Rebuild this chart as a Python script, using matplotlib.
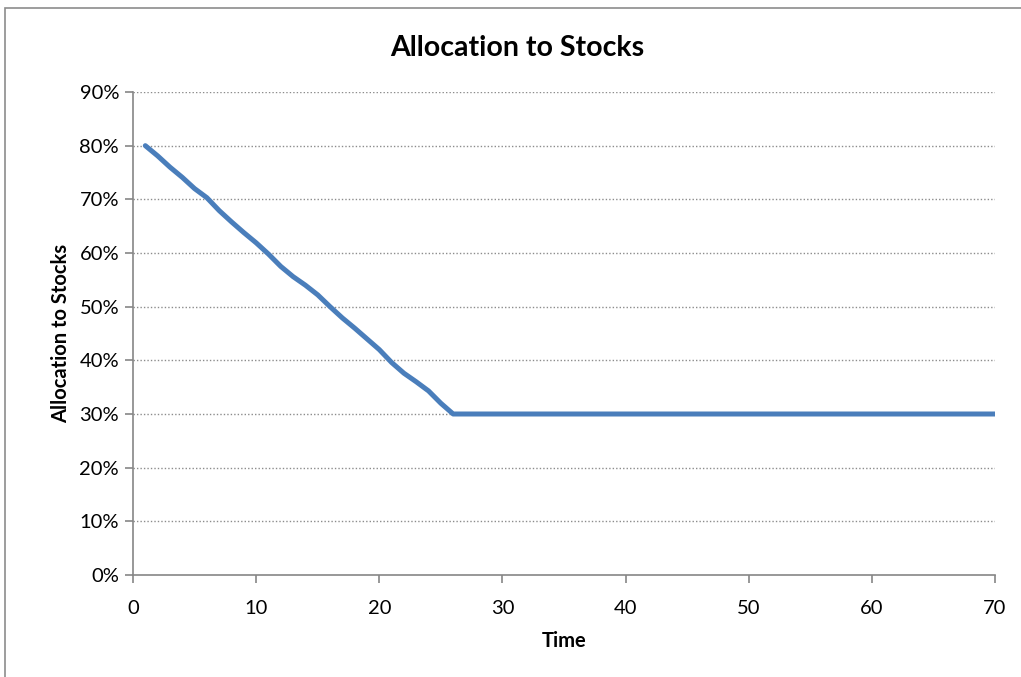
import matplotlib.pyplot as plt
from matplotlib.patches import Rectangle
from matplotlib.ticker import FuncFormatter

plt.rcParams['font.family'] = ['Lato', 'DejaVu Sans']

# glide path: share of portfolio in stocks by year
time = list(range(1, 71))
alloc_glide = [80.0, 78.1, 76.0, 74.1, 72.0, 70.3, 67.9, 65.8, 63.8, 61.9,
               59.8, 57.5, 55.6, 54.0, 52.2, 50.0, 47.9, 46.0, 44.0, 42.0,
               39.6, 37.6, 36.0, 34.3, 32.0, 30.0]
alloc_floor = [30.0] * (len(time) - len(alloc_glide))
allocation = alloc_glide + alloc_floor

y_ticks = [0, 10, 20, 30, 40, 50, 60, 70, 80, 90]
x_ticks = [0, 10, 20, 30, 40, 50, 60, 70]

fig = plt.figure(figsize=(10.21, 6.77), dpi=100)
ax = fig.add_axes([133 / 1021, 102 / 677, 862 / 1021, 483 / 677])

# chart border
fig.patches.append(Rectangle((5 / 1021, -0.1), 1.2, (677 - 8) / 677 + 0.1,
                             transform=fig.transFigure, fill=False,
                             edgecolor='#8c8c8c', linewidth=1.2))

ax.plot(time, allocation, color='#4a7ebb', linewidth=3.6,
        solid_capstyle='round', solid_joinstyle='round', zorder=3)

ax.set_xlim(0, 70)
ax.set_ylim(0, 90)
ax.set_xticks(x_ticks)
ax.set_yticks(y_ticks)
ax.yaxis.set_major_formatter(FuncFormatter(lambda v, p: f"{v:.0f}%"))

for y in y_ticks[1:]:
    ax.axhline(y, color='#8c8c8c', linewidth=1.0, linestyle=(0, (1, 1.5)), zorder=1)

for s in ['top', 'right']:
    ax.spines[s].set_visible(False)
for s in ['left', 'bottom']:
    ax.spines[s].set_color('#868686')
    ax.spines[s].set_linewidth(1.2)

ax.tick_params(axis='both', colors='#868686', labelcolor='black',
               labelsize=14.5, length=6, width=1.2, direction='out')
ax.tick_params(axis='y', pad=4)
ax.tick_params(axis='x', pad=12)

fig.text(517 / 1021, 1 - 48 / 677, "Allocation to Stocks", ha='center',
         va='center', fontsize=20.5, fontweight='bold')
ax.set_xlabel("Time", fontsize=14.5, fontweight='bold', labelpad=10)
ax.set_ylabel("Allocation to Stocks", fontsize=14.5, fontweight='bold', labelpad=6)

fig.savefig("out.png", dpi=100)
